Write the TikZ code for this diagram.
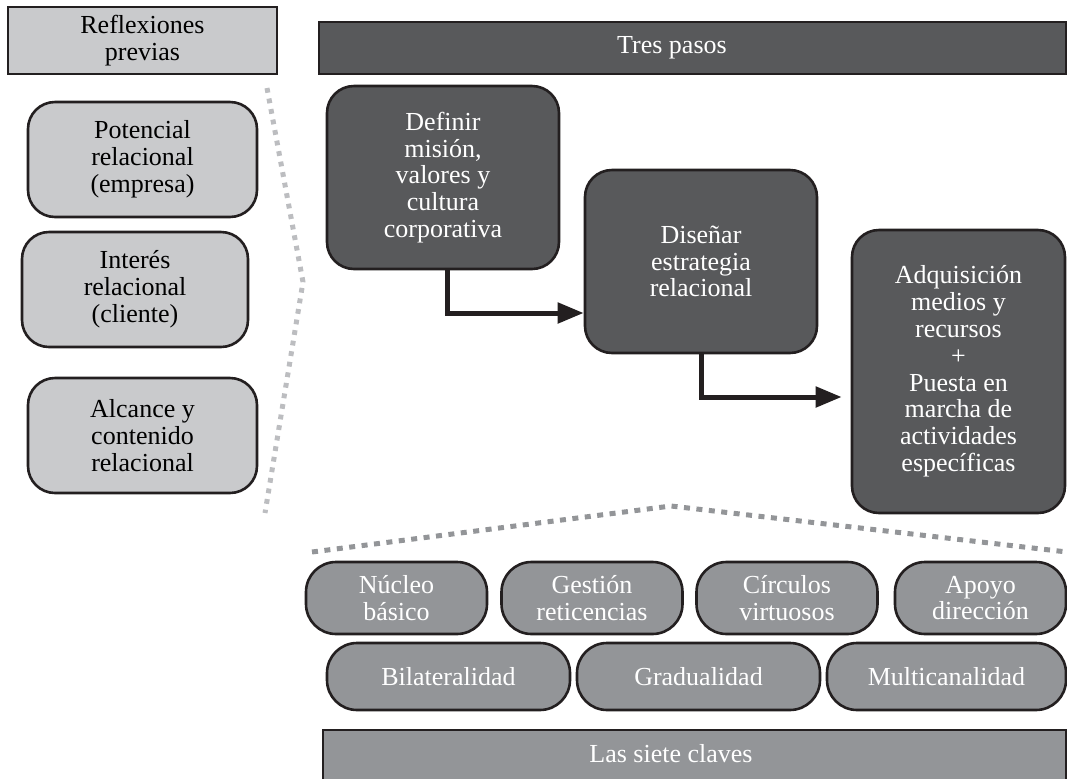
\documentclass[tikz,border=0pt]{standalone}
\usepackage{fontspec}
\setmainfont{Liberation Serif}
\usetikzlibrary{arrows.meta}
\definecolor{cbline}{HTML}{231F20}
\definecolor{cblight}{HTML}{C9CACC}
\definecolor{cbdark}{HTML}{58595B}
\definecolor{cbmid}{HTML}{939598}
\definecolor{cbdotlight}{HTML}{BCBDC0}
\definecolor{cbdotmid}{HTML}{939598}
\tikzstyle{reflect} = [rectangle, minimum width=134.5pt, minimum height=33.5pt, inner sep=0pt,
text centered, align=center, draw=cbline, line width=1.3pt, fill=cblight]
\tikzstyle{previa} = [rectangle, rounded corners=13.5pt, minimum width=114.5pt, minimum height=57.5pt, inner sep=0pt,
text centered, align=center, draw=cbline, line width=1.3pt, fill=cblight]
\tikzstyle{banner} = [rectangle, minimum height=26pt, inner sep=0pt,
draw=cbline, line width=1.3pt, fill=cbdark, text=white]
\tikzstyle{paso} = [rectangle, rounded corners=13.5pt, minimum width=116pt, minimum height=91.5pt, inner sep=0pt,
text centered, align=center, draw=cbline, line width=1.3pt, fill=cbdark, text=white]
\tikzstyle{clave} = [rectangle, rounded corners=15pt, minimum width=90.5pt, minimum height=36pt, inner sep=0pt,
text centered, align=center, draw=cbline, line width=1.3pt, fill=cbmid, text=white]
\tikzstyle{clavewide} = [clave, minimum width=121.5pt, minimum height=33.5pt]
\tikzstyle{guide} = [line width=2.5pt, dash pattern=on 2.4pt off 2.95pt]
\tikzstyle{arrow} = [line width=2.5pt, draw=cbline, -{Triangle[length=13pt, width=10pt]}]

\begin{document}
\begin{tikzpicture}[x=0.5pt, y=-0.5pt, node distance=65pt, font=\fontsize{13}{13.4}\selectfont]

\useasboundingbox (0,0) rectangle (1067,778);
\clip (0,0) rectangle (1067,778);

% ------------------------- nodes -------------------------

% ----- node: 0
\node(0)[reflect] at (142.5,40.5) {Reflexiones\\previas};
% ----- node: 1
\node(1)[previa, below of=0, yshift=5.5pt] {Potencial\\relacional\\(empresa)};
% ----- node: 2
\node(2)[previa, below of=1, xshift=-3.75pt, minimum width=113pt] {Interés\\relacional\\(cliente)};
% ----- node: 3
\node(3)[previa, below of=2, xshift=3.75pt, yshift=-8pt] {Alcance y\\contenido\\relacional};

% ----- node: 4
\node(4)[banner, minimum width=373.5pt] at (692.5,48) {Tres pasos\kern20.5pt};
% ----- node: 5
\node(5)[paso] at (443,177.5) {Definir\\misión,\\valores y\\cultura\\corporativa};
% ----- node: 6
\node(6)[paso] at (701,261.5) {Diseñar\\estrategia\\relacional};
% ----- node: 7
\node(7)[paso, minimum width=106.5pt, minimum height=141.5pt] at (958.5,371.5) {Adquisición\\medios y\\recursos\\+\\Puesta en\\marcha de\\actividades\\específicas};

% ----- node: 8
\node(8)[clave] at (396.5,598) {Núcleo\\básico};
% ----- node: 9
\node(9)[clave, right of=8, xshift=32.75pt] {Gestión\\reticencias};
% ----- node: 10
\node(10)[clave, right of=9, xshift=32.5pt] {Círculos\\virtuosos};
% ----- node: 11
\node(11)[clave, right of=10, xshift=31.75pt, minimum width=85.5pt] {Apoyo\\dirección};
% ----- node: 12
\node(12)[clavewide] at (448.5,676.5) {Bilateralidad};
% ----- node: 13
\node(13)[clavewide, right of=12, xshift=60pt] {Gradualidad};
% ----- node: 14
\node(14)[clavewide, right of=13, xshift=59pt, minimum width=119.5pt] {Multicanalidad};
% ----- node: 15
\node(15)[banner, fill=cbmid, minimum width=371.5pt, minimum height=30pt, text depth=7pt] at (694.5,760) {Las siete claves\kern23.5pt};

% ------------------------- guides -------------------------

\coordinate (g0) at (267,88);
\coordinate (g1) at (303,282);
\coordinate (g2) at (265,513);
\draw[guide, cbdotlight] (g0) -- (g1) -- (g2);

\coordinate (h0) at (312,552);
\coordinate (h1) at (671,506);
\coordinate (h2) at (1067,552);
\draw[guide, cbdotmid, dash pattern=on 3pt off 3.25pt] (h0) -- (h1) -- (h2);

% ------------------------- arrows -------------------------

\draw[arrow] ([xshift=2pt]5.south) |- ([yshift=-25.75pt]6.west);
\draw[arrow, shorten >=4.5pt] (6.south) |- ([yshift=-12.75pt]7.west);

\end{tikzpicture}
\end{document}
